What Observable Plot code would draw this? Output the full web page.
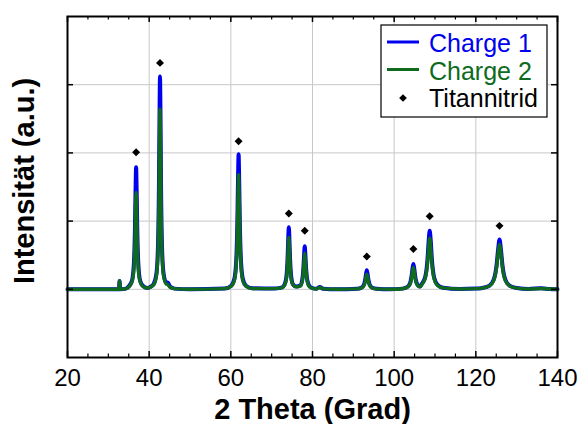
<!DOCTYPE html>
<html>
<head>
<meta charset="utf-8">
<script src="https://cdn.jsdelivr.net/npm/d3@7"></script>
<script src="https://cdn.jsdelivr.net/npm/@observablehq/plot@0.6"></script>
<style>
  html, body { margin: 0; padding: 0; background: #fff; }
</style>
</head>
<body>
<div id="chart"></div>
<script>
// 2θ positions of the digitised scan (shared by both batches)
const angle = [
  20, 32.6, 32.75, 32.9, 34.3,
  35.1, 35.8, 36.24, 36.52, 36.66, 36.8, 36.94, 37.08, 37.36, 37.78, 38.5,
  39.5, 40.4,
  41.15, 41.78, 42.15, 42.4, 42.53, 42.65, 42.78, 42.9, 43.15, 43.53, 44.15,
  44.55, 45.1, 46.2, 50, 58.5,
  60.1, 60.85, 61.3, 61.6, 61.75, 61.9, 62.05, 62.2, 62.5, 62.95, 63.7,
  65.2, 70.5,
  72.4, 73.15, 73.6, 73.9, 74.05, 74.2, 74.35, 74.5, 74.8, 75.25, 76.0,
  76.98, 77.46, 77.78, 77.94, 78.1, 78.26, 78.42, 78.74, 79.22, 80.0,
  81.0, 81.8, 82.6, 86,
  90.9, 91.9, 92.5, 92.9, 93.1, 93.3, 93.5, 93.7, 94.1, 94.7, 95.7,
  99,
  102.0, 103.1, 103.8, 104.25, 104.48, 104.7, 104.93, 105.15, 105.6, 106.3,
  106.78, 107.6, 108.15, 108.43, 108.7, 108.98, 109.25, 109.8, 110.63, 112.0,
  116, 120,
  121.6, 123.35, 124.4, 125.1, 125.45, 125.8, 126.15, 126.5, 127.2, 128.25, 130.0,
  133, 136, 138, 140
];
// Intensity (a.u.) – Charge 1
const charge1 = [
  0, 0, 0.12, 0, 0.01,
  0.05, 0.13, 0.36, 0.9, 1.43, 1.79, 1.43, 0.9, 0.36, 0.13, 0.05,
  0.02, 0.04,
  0.084, 0.23, 0.62, 1.56, 2.5, 3.12, 2.5, 1.56, 0.62, 0.23, 0.1,
  0.1, 0.04, 0.01, 0, 0.01,
  0.053, 0.15, 0.4, 0.99, 1.58, 1.98, 1.58, 0.99, 0.4, 0.15, 0.053,
  0.015, 0.01,
  0.025, 0.07, 0.18, 0.46, 0.73, 0.91, 0.73, 0.46, 0.18, 0.07, 0.04,
  0.055, 0.13, 0.32, 0.5, 0.63, 0.5, 0.32, 0.13, 0.05, 0.017,
  0.008, 0.035, 0.008, 0,
  0.008, 0.02, 0.056, 0.14, 0.22, 0.28, 0.22, 0.14, 0.056, 0.02, 0.008,
  0,
  0.01, 0.03, 0.075, 0.19, 0.3, 0.37, 0.3, 0.19, 0.08, 0.04,
  0.08, 0.18, 0.43, 0.69, 0.86, 0.69, 0.43, 0.17, 0.065, 0.023,
  0.005, 0.01,
  0.02, 0.055, 0.146, 0.365, 0.58, 0.73, 0.58, 0.365, 0.146, 0.055, 0.02,
  0.005, 0.015, 0.005, 0
];
// Intensity (a.u.) – Charge 2
const charge2 = [
  0, 0, 0.13, 0, 0.01,
  0.04, 0.11, 0.28, 0.71, 1.14, 1.42, 1.14, 0.71, 0.28, 0.11, 0.04,
  0.02, 0.035,
  0.07, 0.2, 0.53, 1.32, 2.11, 2.64, 2.11, 1.32, 0.53, 0.2, 0.08,
  0.07, 0.03, 0.01, 0, 0.01,
  0.045, 0.126, 0.34, 0.84, 1.34, 1.68, 1.34, 0.84, 0.34, 0.126, 0.045,
  0.012, 0.01,
  0.02, 0.057, 0.15, 0.38, 0.61, 0.76, 0.61, 0.38, 0.15, 0.06, 0.035,
  0.045, 0.11, 0.27, 0.42, 0.53, 0.42, 0.27, 0.11, 0.04, 0.014,
  0.006, 0.03, 0.006, 0,
  0.006, 0.017, 0.044, 0.11, 0.18, 0.22, 0.18, 0.11, 0.044, 0.017, 0.006,
  0,
  0.009, 0.026, 0.064, 0.16, 0.26, 0.32, 0.26, 0.16, 0.07, 0.035,
  0.07, 0.16, 0.375, 0.6, 0.75, 0.6, 0.375, 0.15, 0.056, 0.02,
  0.005, 0.01,
  0.018, 0.05, 0.13, 0.33, 0.53, 0.66, 0.53, 0.33, 0.13, 0.05, 0.018,
  0.005, 0.012, 0.005, 0
];
// Titannitrid reference reflections (markers)
const tinAngle = [36.8, 42.65, 61.9, 74.2, 78.1, 93.3, 104.7, 108.7, 125.8];
const tinLevel = [2.01, 3.32, 2.17, 1.11, 0.86, 0.48, 0.59, 1.07, 0.93];

// Axis ticks
const xTicks = [20, 40, 60, 80, 100, 120, 140];
const xMinorTicks = [25, 30, 35, 45, 50, 55, 65, 70, 75, 85, 90, 95, 105, 110, 115, 125, 130, 135];
const yTicks = [0, 1, 2, 3];

const seriesNames = ["Charge 1", "Charge 2", "Titannitrid"];
const xTitle = "2 Theta (Grad)";
const yTitle = "Intensität (a.u.)";

const BLUE = "#0000ee";
const GREEN = "#0e6b1e";
const FONT = "'Liberation Sans', Arial, sans-serif";

const W = 579, H = 424;
const mL = 67, mR = 22, mT = 16, mB = 67;
const innerW = W - mL - mR, innerH = H - mT - mB;

const rows1 = angle.map((a, i) => ({angle: a, intensity: charge1[i]}));
const rows2 = angle.map((a, i) => ({angle: a, intensity: charge2[i]}));
const markers = tinAngle.map((a, i) => ({angle: a, level: tinLevel[i]}));

const svg = Plot.plot({
  width: W,
  height: H,
  marginLeft: mL,
  marginRight: mR,
  marginTop: mT,
  marginBottom: mB,
  style: {fontFamily: FONT, color: "black", background: "white"},
  x: {domain: [20, 140], axis: null},
  y: {domain: [-1, 4], axis: null},
  marks: [
    Plot.gridX(xTicks, {stroke: "#c8c8c8", strokeOpacity: 1, strokeWidth: 1}),
    Plot.gridY(yTicks, {stroke: "#c8c8c8", strokeOpacity: 1, strokeWidth: 1}),
    Plot.line(rows1, {x: "angle", y: "intensity", stroke: BLUE, strokeWidth: 4, curve: "monotone-x"}),
    Plot.line(rows2, {x: "angle", y: "intensity", stroke: GREEN, strokeWidth: 3.4, curve: "monotone-x"}),
    Plot.dot(markers, {x: "angle", y: "level", symbol: "diamond2", r: 3.6, fill: "black", stroke: null}),
    Plot.frame({stroke: "black", strokeWidth: 2}),
    // inward major / minor ticks on all four sides
    Plot.tickX(xTicks, {x: d => d, insetTop: innerH - 6, stroke: "black", strokeWidth: 1.5}),
    Plot.tickX(xTicks, {x: d => d, insetBottom: innerH - 6, stroke: "black", strokeWidth: 1.5}),
    Plot.tickX(xMinorTicks, {x: d => d, insetTop: innerH - 3.5, stroke: "black", strokeWidth: 1.2}),
    Plot.tickX(xMinorTicks, {x: d => d, insetBottom: innerH - 3.5, stroke: "black", strokeWidth: 1.2}),
    Plot.tickY(yTicks, {y: d => d, insetRight: innerW - 6, stroke: "black", strokeWidth: 1.5}),
    Plot.tickY(yTicks, {y: d => d, insetLeft: innerW - 6, stroke: "black", strokeWidth: 1.5}),
    Plot.axisX(xTicks, {anchor: "bottom", tickSize: 0, tickPadding: 11, fontSize: 24, label: null}),
    Plot.text([xTitle], {text: d => d, frameAnchor: "bottom", textAnchor: "middle", lineAnchor: "bottom", dy: 61, fontSize: 29, fontWeight: "bold", fill: "black"}),
    Plot.text([yTitle], {text: d => d, frameAnchor: "left", textAnchor: "middle", rotate: -90, lineAnchor: "bottom", dx: -34, dy: -6, fontSize: 29, fontWeight: "bold", fill: "black"})
  ]
});

// Legend inside the plot (top right)
const lg = d3.select(svg).append("g").attr("class", "legend").attr("text-anchor", "start");
lg.append("rect")
  .attr("x", 381).attr("y", 25).attr("width", 166).attr("height", 92)
  .attr("fill", "white").attr("stroke", "black").attr("stroke-width", 1.2);
const entries = [
  {name: seriesNames[0], color: BLUE, kind: "line", y: 42, base: 52},
  {name: seriesNames[1], color: GREEN, kind: "line", y: 69.5, base: 79.5},
  {name: seriesNames[2], color: "black", kind: "dot", y: 98, base: 107}
];
entries.forEach(e => {
  if (e.kind === "line") {
    lg.append("line").attr("x1", 387).attr("x2", 419).attr("y1", e.y).attr("y2", e.y)
      .attr("stroke", e.color).attr("stroke-width", 3);
  } else {
    lg.append("path").attr("d", d3.symbol(d3.symbolSquare, 30)())
      .attr("transform", `translate(403,${e.y}) rotate(45)`).attr("fill", "black");
  }
  lg.append("text").attr("x", 429).attr("y", e.base)
    .attr("text-anchor", "start")
    .attr("font-size", 25).attr("fill", e.color)
    .attr("font-family", FONT)
    .text(e.name);
});

document.getElementById("chart").appendChild(svg);
</script>
</body>
</html>
